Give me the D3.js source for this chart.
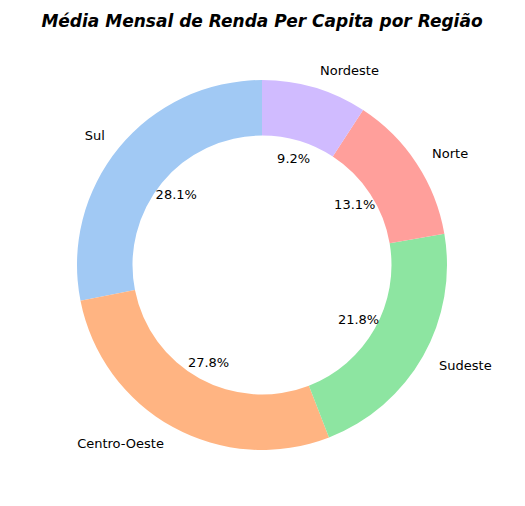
<!DOCTYPE html>
<html><head><meta charset="utf-8">
<script src="https://cdn.jsdelivr.net/npm/d3@7"></script>
<style>body{margin:0;background:#fff}</style></head>
<body><svg id="c" width="525" height="506"></svg>
<script>
const regions = ["Sul","Centro-Oeste","Sudeste","Norte","Nordeste"];
const shares = [28.1,27.8,21.8,13.1,9.2];
const colors = ["#a1c9f4","#ffb482","#8de5a1","#ff9f9b","#d0bbff"];
const svg = d3.select("#c");
const cx=262, cy=265, R=185;
svg.append("text").attr("x",262).attr("y",27).attr("text-anchor","middle")
  .attr("font-family","DejaVu Sans").attr("font-size",17).attr("font-weight","bold").attr("font-style","italic")
  .text("Média Mensal de Renda Per Capita por Região");
const pie = d3.pie().sort(null).startAngle(0).endAngle(-2*Math.PI);
const arcs = pie(shares);
const arc = d3.arc().innerRadius(R*0.7).outerRadius(R);
const g = svg.append("g").attr("transform",`translate(${cx},${cy})`);
g.selectAll("path").data(arcs).join("path").attr("d",arc).attr("fill",(d,i)=>colors[i]);
const font = "DejaVu Sans";
arcs.forEach((d,i)=>{
  const a=(d.startAngle+d.endAngle)/2;
  const sx=Math.sin(a), sy=-Math.cos(a);
  g.append("text").attr("x",sx*R*1.1).attr("y",sy*R*1.1).attr("dy","0.35em")
   .attr("text-anchor", sx<0?"end":"start").attr("font-family",font).attr("font-size",13)
   .text(regions[i]);
  g.append("text").attr("x",sx*R*0.6).attr("y",sy*R*0.6).attr("dy","0.35em")
   .attr("text-anchor","middle").attr("font-family",font).attr("font-size",13)
   .text(shares[i].toFixed(1)+"%");
});
</script></body></html>
